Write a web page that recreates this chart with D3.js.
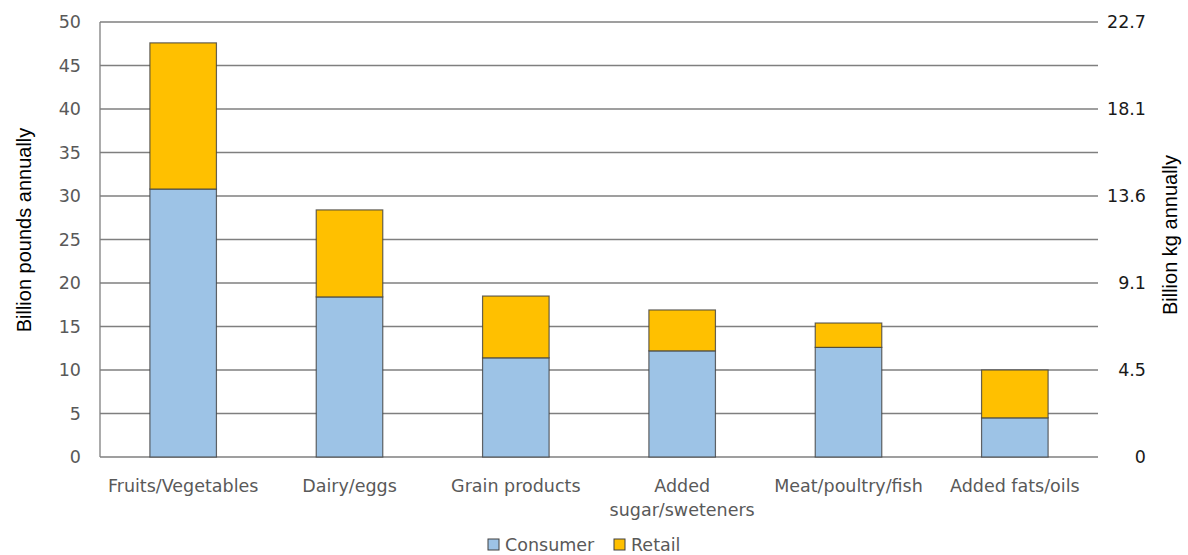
<!DOCTYPE html>
<html>
<head>
<meta charset="utf-8">
<script src="https://cdn.jsdelivr.net/npm/d3@7"></script>
<style>
  body { margin: 0; background: #fff; }
  text { font-family: "DejaVu Sans", Verdana, sans-serif; }
  .tick-label { fill: #595959; font-size: 17.5px; }
  .axis-title { fill: #000; font-size: 20px; font-family: "Liberation Sans", Arial, sans-serif; }
</style>
</head>
<body>
<div id="chart"></div>
<script>
// Data
const categories = ["Fruits/Vegetables", "Dairy/eggs", "Grain products", "Added sugar/sweteners", "Meat/poultry/fish", "Added fats/oils"];
const consumer = [30.8, 18.4, 11.4, 12.2, 12.6, 4.5];
const retail = [16.8, 10.0, 7.1, 4.7, 2.8, 5.5];
const leftTicks = [0, 5, 10, 15, 20, 25, 30, 35, 40, 45, 50];
const rightTickLabels = ["0", "4.5", "9.1", "13.6", "18.1", "22.7"];
const seriesNames = ["Consumer", "Retail"];
const colors = ["#9DC3E6", "#FFC000"];

const W = 1188, H = 555;
const margin = { top: 22, right: 90, bottom: 98, left: 100 };
const width = W - margin.left - margin.right;
const height = H - margin.top - margin.bottom;

const svg = d3.select("#chart").append("svg")
    .attr("width", W)
    .attr("height", H);

const g = svg.append("g")
    .attr("transform", `translate(${margin.left},${margin.top})`);

const x = d3.scaleBand()
    .domain(categories)
    .range([0, width])
    .paddingInner(0.6)
    .paddingOuter(0.3);

const y = d3.scaleLinear()
    .domain([0, 50])
    .range([height, 0]);

// Gridlines
g.selectAll(".grid")
    .data(leftTicks)
    .enter().append("line")
    .attr("x1", 0)
    .attr("x2", width)
    .attr("y1", d => y(d))
    .attr("y2", d => y(d))
    .attr("stroke", "#7f7f7f")
    .attr("stroke-width", 1.3);

// Left axis line
g.append("line")
    .attr("x1", 0).attr("x2", 0)
    .attr("y1", 0).attr("y2", height)
    .attr("stroke", "#7f7f7f")
    .attr("stroke-width", 1.3);

// Left tick labels
g.selectAll(".ltick")
    .data(leftTicks)
    .enter().append("text")
    .attr("class", "tick-label")
    .attr("x", -19)
    .attr("y", d => y(d))
    .attr("dy", "0.35em")
    .attr("text-anchor", "end")
    .text(d => d);

// Right tick labels (every other gridline: 0,10,20,...)
g.selectAll(".rtick")
    .data(rightTickLabels)
    .enter().append("text")
    .attr("class", "tick-label")
    .style("fill", "#1a1a1a")
    .attr("x", width + 48)
    .attr("y", (d, i) => y(i * 10))
    .attr("dy", "0.35em")
    .attr("text-anchor", "end")
    .text(d => d);

// Stacked bars
const rows = categories.map((c, i) => ({ cat: c, Consumer: consumer[i], Retail: retail[i] }));
const stacked = d3.stack().keys(seriesNames)(rows);

g.selectAll(".series")
    .data(stacked)
    .enter().append("g")
    .attr("fill", (d, i) => colors[i])
    .selectAll("rect")
    .data(d => d)
    .enter().append("rect")
    .attr("x", d => x(d.data.cat))
    .attr("width", x.bandwidth())
    .attr("y", d => y(d[1]))
    .attr("height", d => y(d[0]) - y(d[1]))
    .attr("stroke", "#404040")
    .attr("stroke-opacity", 0.8)
    .attr("stroke-width", 1.2);

// Category labels
const catLabels = g.selectAll(".cat")
    .data(categories)
    .enter().append("text")
    .attr("class", "tick-label")
    .attr("text-anchor", "middle")
    .attr("x", d => x(d) + x.bandwidth() / 2)
    .attr("y", height + 35);

catLabels.each(function(d) {
    const t = d3.select(this);
    if (d === "Added sugar/sweteners") {
        t.append("tspan").attr("x", x(d) + x.bandwidth() / 2).text("Added");
        t.append("tspan").attr("x", x(d) + x.bandwidth() / 2).attr("dy", 24).text("sugar/sweteners");
    } else {
        t.text(d);
    }
});

// Axis titles
svg.append("text")
    .attr("class", "axis-title")
    .attr("transform", `translate(31,${230}) rotate(-90)`)
    .attr("text-anchor", "middle")
    .text("Billion pounds annually");

svg.append("text")
    .attr("class", "axis-title")
    .attr("transform", `translate(1177,${235}) rotate(-90)`)
    .attr("text-anchor", "middle")
    .text("Billion kg annually");

// Legend
const legend = svg.append("g").attr("transform", "translate(488,539)");
const legendX = [0, 126];
seriesNames.forEach((s, i) => {
    const lg = legend.append("g").attr("transform", `translate(${legendX[i]},0)`);
    lg.append("rect")
        .attr("width", 11).attr("height", 11)
        .attr("fill", colors[i])
        .attr("stroke", "#404040")
        .attr("stroke-width", 1);
    lg.append("text")
        .attr("class", "tick-label")
        .attr("x", 17)
        .attr("y", 6)
        .attr("dy", "0.35em")
        .text(s);
});
</script>
</body>
</html>
